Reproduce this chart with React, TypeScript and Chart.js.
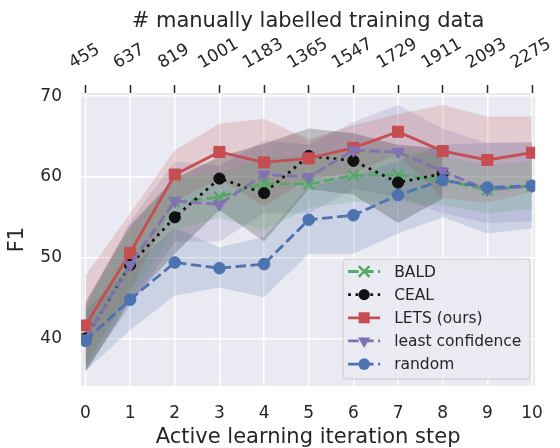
import React, { useEffect, useRef } from "react";
import { Chart, registerables } from "chart.js";

Chart.register(...registerables);

// ---------------- data ----------------
const steps = [0, 1, 2, 3, 4, 5, 6, 7, 8, 9, 10];
const labelledCounts = ["455", "637", "819", "1001", "1183", "1365", "1547", "1729", "1911", "2093", "2275"];
const yTicks = [40, 50, 60, 70];

const baldMean = [40.0, 49.3, 56.9, 57.5, 59.2, 59.1, 60.2, 60.25, 59.6, 58.4, 58.9];
const baldUpper = [44.0, 53.5, 60.0, 60.5, 62.5, 62.5, 63.5, 63.5, 62.5, 61.5, 62.0];
const baldLower = [36.0, 45.0, 53.5, 54.9, 53.5, 56.1, 56.9, 57.0, 56.5, 55.5, 56.0];

const cealMean = [40.0, 49.1, 55.0, 59.8, 58.0, 62.6, 62.0, 59.3, 60.4];
const cealUpper = [44.5, 54.0, 59.8, 62.5, 64.1, 66.0, 65.4, 64.0, 63.5];
const cealLower = [35.8, 44.5, 50.5, 55.9, 52.0, 58.5, 57.8, 54.3, 57.3];

const letsMean = [41.6, 50.6, 60.3, 63.1, 61.8, 62.3, 63.6, 65.6, 63.2, 62.1, 63.0];
const letsUpper = [47.8, 55.5, 63.3, 66.6, 67.2, 64.6, 66.4, 67.8, 68.9, 67.5, 67.5];
const letsLower = [36.5, 45.8, 57.0, 59.8, 56.3, 59.8, 60.5, 62.8, 57.4, 56.8, 58.2];

const lcMean = [40.0, 49.1, 57.0, 56.6, 60.3, 60.0, 63.3, 63.1, 60.7, 58.4, 58.9];
const lcUpper = [44.0, 54.5, 61.9, 61.4, 64.5, 64.0, 66.8, 68.9, 66.0, 64.2, 64.3];
const lcLower = [36.0, 44.0, 52.0, 52.0, 55.5, 55.5, 58.5, 57.5, 55.5, 54.3, 54.5];

const randomMean = [39.7, 44.8, 49.4, 48.7, 49.2, 54.7, 55.25, 57.75, 59.6, 58.7, 58.9];
const randomUpper = [43.5, 48.8, 53.7, 51.3, 52.6, 58.8, 60.0, 62.0, 64.0, 64.2, 64.3];
const randomLower = [36.0, 41.0, 45.3, 46.3, 45.1, 50.5, 50.5, 53.0, 55.0, 53.0, 53.6];

const seriesNames = ["BALD", "CEAL", "LETS (ours)", "least confidence", "random"];

// ---------------- styles ----------------
const FONT = "'DejaVu Sans', sans-serif";
const TEXT = "#262626";
const LW = 2.8;
const DASH = [10.5, 4.5];
const DOT = [2.8, 4.6];

const seriesStyle = [
  { color: "#55A868", rgb: "85,168,104", dash: DASH, marker: "crossRot", radius: 7.5, rot: 0 },
  { color: "#111111", rgb: "0,0,0", dash: DOT, marker: "circle", radius: 5.6, rot: 0 },
  { color: "#C44E52", rgb: "196,78,82", dash: [] as number[], marker: "rect", radius: 7.8, rot: 0 },
  { color: "#8172B3", rgb: "129,114,179", dash: DASH, marker: "triangle", radius: 7, rot: 180 },
  { color: "#4C72B0", rgb: "76,114,176", dash: DASH, marker: "circle", radius: 5.8, rot: 0 },
];

const seriesData = [
  { mean: baldMean, upper: baldUpper, lower: baldLower },
  { mean: cealMean, upper: cealUpper, lower: cealLower },
  { mean: letsMean, upper: letsUpper, lower: letsLower },
  { mean: lcMean, upper: lcUpper, lower: lcLower },
  { mean: randomMean, upper: randomUpper, lower: randomLower },
];

const toPts = (arr: number[]) => arr.map((y, i) => ({ x: steps[i], y }));

function drawMarker(ctx: CanvasRenderingContext2D, style: string, x: number, y: number, r: number, color: string, rot: number) {
  ctx.save();
  ctx.setLineDash([]);
  ctx.fillStyle = color;
  ctx.strokeStyle = color;
  ctx.beginPath();
  if (style === "circle") {
    ctx.arc(x, y, r, 0, Math.PI * 2);
    ctx.fill();
  } else if (style === "rect") {
    const s = r * Math.SQRT1_2;
    ctx.rect(x - s, y - s, 2 * s, 2 * s);
    ctx.fill();
  } else if (style === "triangle") {
    let rad = (rot * Math.PI) / 180;
    ctx.moveTo(x + Math.sin(rad) * r, y - Math.cos(rad) * r);
    rad += (2 * Math.PI) / 3;
    ctx.lineTo(x + Math.sin(rad) * r, y - Math.cos(rad) * r);
    rad += (2 * Math.PI) / 3;
    ctx.lineTo(x + Math.sin(rad) * r, y - Math.cos(rad) * r);
    ctx.closePath();
    ctx.fill();
  } else if (style === "crossRot") {
    const d = r * Math.SQRT1_2;
    ctx.lineWidth = 2.5;
    ctx.moveTo(x - d, y - d);
    ctx.lineTo(x + d, y + d);
    ctx.moveTo(x - d, y + d);
    ctx.lineTo(x + d, y - d);
    ctx.stroke();
  }
  ctx.restore();
}

const decorPlugin = {
  id: "decor",
  beforeDraw(chart: any) {
    const { ctx, chartArea: a } = chart;
    ctx.save();
    ctx.fillStyle = "#EAEAF2";
    ctx.fillRect(a.left, a.top, a.right - a.left, a.bottom - a.top);
    ctx.restore();
  },
  afterDraw(chart: any) {
    const { ctx, chartArea: a } = chart;
    // top axis rotated labels
    const sc = chart.scales.x2;
    ctx.save();
    ctx.font = `17px ${FONT}`;
    ctx.fillStyle = TEXT;
    ctx.textAlign = "center";
    ctx.textBaseline = "middle";
    steps.forEach((v, i) => {
      const px = sc.getPixelForValue(v);
      const text = labelledCounts[i];
      const w = ctx.measureText(text).width;
      const h = 17 * 0.85;
      const H = w * Math.sin(Math.PI / 6) + h * Math.cos(Math.PI / 6);
      const cy = sc.bottom - 22 - H / 2;
      ctx.save();
      ctx.translate(px - 1, cy);
      ctx.rotate(-Math.PI / 6);
      ctx.fillText(text, 0, 0);
      ctx.restore();
    });
    ctx.restore();

    // legend
    const boxW = 187;
    const boxH = 120;
    const x0 = a.right - 5 - boxW;
    const y0 = a.bottom - 7 - boxH;
    ctx.save();
    ctx.beginPath();
    const rr = 4;
    ctx.moveTo(x0 + rr, y0);
    ctx.lineTo(x0 + boxW - rr, y0);
    ctx.arcTo(x0 + boxW, y0, x0 + boxW, y0 + rr, rr);
    ctx.lineTo(x0 + boxW, y0 + boxH - rr);
    ctx.arcTo(x0 + boxW, y0 + boxH, x0 + boxW - rr, y0 + boxH, rr);
    ctx.lineTo(x0 + rr, y0 + boxH);
    ctx.arcTo(x0, y0 + boxH, x0, y0 + boxH - rr, rr);
    ctx.lineTo(x0, y0 + rr);
    ctx.arcTo(x0, y0, x0 + rr, y0, rr);
    ctx.closePath();
    ctx.fillStyle = "rgba(234,234,242,0.8)";
    ctx.fill();
    ctx.strokeStyle = "#cccccc";
    ctx.lineWidth = 1;
    ctx.stroke();

    ctx.font = `15.5px ${FONT}`;
    ctx.textAlign = "left";
    ctx.textBaseline = "middle";
    seriesNames.forEach((name, i) => {
      const st = seriesStyle[i];
      const y = y0 + 12.5 + i * 23.15;
      ctx.save();
      ctx.strokeStyle = st.color;
      ctx.lineWidth = LW;
      ctx.lineCap = "butt";
      ctx.setLineDash(st.dash);
      ctx.beginPath();
      ctx.moveTo(x0 + 5, y);
      ctx.lineTo(x0 + 37, y);
      ctx.stroke();
      ctx.restore();
      drawMarker(ctx, st.marker, x0 + 21, y, st.radius, st.color, st.rot);
      ctx.fillStyle = TEXT;
      ctx.fillText(name, x0 + 51, y + 1);
    });
    ctx.restore();
  },
};

export default function App() {
  const ref = useRef<HTMLCanvasElement>(null);

  useEffect(() => {
    if (!ref.current) return;
    const datasets: any[] = [];
    // bands
    seriesData.forEach((d, k) => {
      const st = seriesStyle[k];
      datasets.push({
        label: seriesNames[k] + " lower",
        data: toPts(d.lower),
        borderWidth: 0,
        pointRadius: 0,
        fill: false,
        order: 20,
        borderColor: "rgba(0,0,0,0)",
      });
      datasets.push({
        label: seriesNames[k] + " upper",
        data: toPts(d.upper),
        borderWidth: 0,
        pointRadius: 0,
        fill: "-1",
        backgroundColor: `rgba(${st.rgb},0.2)`,
        order: 20,
        borderColor: "rgba(0,0,0,0)",
      });
    });
    // lines
    seriesData.forEach((d, k) => {
      const st = seriesStyle[k];
      datasets.push({
        label: seriesNames[k],
        data: toPts(d.mean),
        borderColor: st.color,
        backgroundColor: st.color,
        borderWidth: LW,
        borderDash: st.dash,
        borderCapStyle: "butt",
        pointStyle: st.marker,
        pointRadius: st.radius,
        pointRotation: st.rot,
        pointBorderWidth: st.marker === "crossRot" ? 2.5 : 1,
        pointBackgroundColor: st.color,
        pointBorderColor: st.color,
        fill: false,
        tension: 0,
        order: 5 - k,
      });
    });

    const xMin = -0.1;
    const xMax = 10.07;

    const chart = new Chart(ref.current, {
      type: "line",
      data: { datasets },
      plugins: [decorPlugin],
      options: {
        responsive: false,
        animation: false,
        layout: { padding: { left: 0, right: 18, top: 0, bottom: 0 } },
        plugins: { legend: { display: false }, tooltip: { enabled: false } },
        scales: {
          x: {
            type: "linear",
            position: "bottom",
            min: xMin,
            max: xMax,
            afterBuildTicks: (s: any) => {
              s.ticks = steps.map((v) => ({ value: v }));
            },
            afterFit: (s: any) => {
              s.height = 62;
            },
            ticks: {
              font: { family: FONT, size: 17 },
              color: TEXT,
              padding: 17,
              maxRotation: 0,
              autoSkip: false,
              callback: (v: any) => String(v),
            },
            grid: { color: "#ffffff", lineWidth: 1.5, drawTicks: false },
            border: { display: false },
            title: {
              display: true,
              text: "Active learning iteration step",
              font: { family: FONT, size: 21, lineHeight: 1 },
              color: TEXT,
              padding: { top: 0, bottom: 0 },
            },
          },
          x2: {
            type: "linear",
            position: "top",
            min: xMin,
            max: xMax,
            afterBuildTicks: (s: any) => {
              s.ticks = steps.map((v) => ({ value: v }));
            },
            afterFit: (s: any) => {
              s.height = 93;
            },
            ticks: { display: false },
            grid: {
              drawOnChartArea: false,
              drawTicks: true,
              tickLength: 8,
              tickColor: TEXT,
              tickWidth: 1.5,
            },
            border: { display: false },
            title: {
              display: true,
              text: "# manually labelled training data",
              font: { family: FONT, size: 21, lineHeight: 1 },
              color: TEXT,
              padding: { top: 11, bottom: 11 },
            },
          },
          y: {
            type: "linear",
            min: 34.1,
            max: 70.4,
            afterBuildTicks: (s: any) => {
              s.ticks = yTicks.map((v) => ({ value: v }));
            },
            afterFit: (s: any) => {
              s.width = 81;
            },
            ticks: {
              font: { family: FONT, size: 17 },
              color: TEXT,
              padding: 19,
            },
            grid: { color: "#ffffff", lineWidth: 1.5, drawTicks: false },
            border: { display: false },
            title: {
              display: true,
              text: "F1",
              font: { family: FONT, size: 21, lineHeight: 1 },
              color: TEXT,
              padding: { top: 7.5, bottom: 7.5 },
            },
          },
        },
      } as any,
    });
    return () => chart.destroy();
  }, []);

  return (
    <div style={{ position: "absolute", left: 0, top: 0, width: 560, height: 448 }}>
      <canvas ref={ref} width={560} height={448} style={{ display: "block" }} />
    </div>
  );
}
